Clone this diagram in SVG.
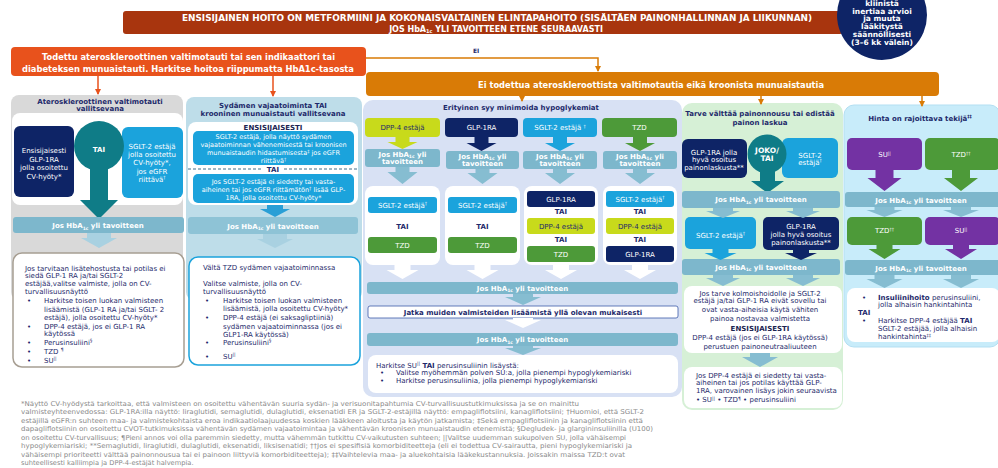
<svg xmlns="http://www.w3.org/2000/svg" width="998" height="468" viewBox="0 0 998 468">
<defs>
<style>
text{font-family:"DejaVu Sans",Verdana,sans-serif}
.n{fill:#1E2A6B;font-size:7px}
.w{fill:#fff;font-size:7px}
.s6{font-size:6.5px}
.b{font-weight:bold}
.m{text-anchor:middle}
.sp{font-size:4.5px}
.bar{fill:#7DB7CC}
.la{fill:#86BDD1}
.lal{fill:#A9D1E1}
.wh{fill:#fff}
.navy{fill:#0E2466}
.blue{fill:#1BA3DC}
.lime{fill:#C8DA1B}
.green{fill:#4D9A39}
.purple{fill:#7332A3}
.teal{fill:#0F7C87}
.fn{fill:#8A8A8A;font-size:6.7px}
.ol{fill:none;stroke:#D97B06;stroke-width:1.5}
.or{fill:none;stroke:#E8521C;stroke-width:1.5}
</style>
<marker id="ahA" markerWidth="6" markerHeight="6" refX="5" refY="3" orient="auto" markerUnits="userSpaceOnUse"><path d="M0,0 L6,3 L0,6 Z" fill="#D97B06"/></marker>
<marker id="ahR" markerWidth="6" markerHeight="6" refX="5" refY="3" orient="auto" markerUnits="userSpaceOnUse"><path d="M0,0 L6,3 L0,6 Z" fill="#E8521C"/></marker>
</defs>

<!-- top banner -->
<g id="banner">
<rect x="123" y="11" width="720" height="23" rx="3" fill="#A8350E"/>
<text class="w b m" x="497" y="21" style="font-size:8px" textLength="630" lengthAdjust="spacingAndGlyphs">ENSISIJAINEN HOITO ON METFORMIINI JA KOKONAISVALTAINEN ELINTAPAHOITO (SISÄLTÄEN PAINONHALLINNAN JA LIIKUNNAN)</text>
<text class="w b m" x="496" y="31.5" style="font-size:8px">JOS HbA<tspan font-size="5" dy="1.5">1c</tspan><tspan dy="-1.5"> YLI TAVOITTEEN ETENE SEURAAVASTI</tspan></text>
</g>

<!-- inertia reminder circle -->
<g id="inertia">
<circle cx="882" cy="15" r="45" fill="#0E2466"/>
<text class="w b m" style="font-size:7.5px" x="882" y="6">kliinistä</text>
<text class="w b m" style="font-size:7.5px" x="882" y="13.5">inertiaa arvioi</text>
<text class="w b m" style="font-size:7.5px" x="882" y="21">ja muuta</text>
<text class="w b m" style="font-size:7.5px" x="882" y="29">lääkitystä</text>
<text class="w b m" style="font-size:7.5px" x="882" y="37">säännöllisesti</text>
<text class="w b m" style="font-size:7.5px" x="882" y="45">(3–6 kk välein)</text>
</g>

<!-- decision boxes -->
<g id="ascvd-yes">
<rect x="11" y="47" width="355" height="29" rx="4" fill="#E8521C"/>
<text class="w b m" style="font-size:8px" x="188.5" y="60" textLength="293" lengthAdjust="spacingAndGlyphs">Todettu ateroskleroottinen valtimotauti tai sen indikaattori tai</text>
<text class="w b m" style="font-size:8px" x="188" y="71.5" textLength="332" lengthAdjust="spacingAndGlyphs">diabeteksen  munuaistauti. Harkitse hoitoa riippumatta HbA1c-tasosta</text>
</g>
<g id="ascvd-no">
<rect x="366" y="72" width="573" height="24" rx="4" fill="#D97B06"/>
<text class="w b m" style="font-size:8.5px" x="651" y="88" textLength="346" lengthAdjust="spacingAndGlyphs">Ei todettua ateroskleroottista valtimotautia eikä kroonista munuaistautia</text>
</g>

<!-- column: ASCVD -->
<g id="col-ascvd">
<rect x="11" y="95" width="172" height="205" rx="8" fill="#D9D9D9"/>
<text class="n b m" x="100" y="103.5">Ateroskleroottinen valtimotauti</text>
<text class="n b m" x="100" y="111">vallitsevana</text>
<rect x="12" y="113" width="171" height="92" rx="8" class="wh"/>
<rect x="14" y="126" width="60" height="71" rx="6" class="navy"/>
<text class="w m" x="44" y="153">Ensisijaisesti</text>
<text class="w m" x="44" y="161.5">GLP-1RA</text>
<text class="w m" x="44" y="170">jolla osoitettu</text>
<text class="w m" x="44" y="178.5">CV-hyöty*</text>
<rect x="122" y="127" width="61" height="71" rx="6" class="blue"/>
<text class="w m" x="152" y="148.5">SGLT-2 estäjä</text>
<text class="w m" x="152" y="156.5">jolla osoitettu</text>
<text class="w m" x="152" y="164.5">CV-hyöty*,</text>
<text class="w m" x="152" y="173.5">jos eGFR</text>
<text class="w m" x="152" y="181.5">riittävä<tspan class="sp" dy="-2.5">†</tspan></text>
<circle cx="99" cy="146" r="25" class="teal"/>
<rect x="90" y="165" width="18" height="36" class="teal"/>
<polygon points="80,200 118,200 99,219" class="teal"/>
<text class="w b m" x="99" y="152">TAI</text>
<rect x="13" y="217" width="171" height="16" rx="3" class="bar"/>
<text class="w b m" x="98" y="228">Jos HbA<tspan font-size="4.5" dy="1.5">1c</tspan><tspan dy="-1.5"> yli tavoitteen</tspan></text>
<path d="M87,233 H111 V238 H117 L99,248 L81,238 H87 Z" class="lal"/>
<rect x="13" y="253" width="171" height="114" rx="9" fill="#fff" stroke="#A79E92" stroke-width="1.5"/>
<text class="n" x="25" y="270.5">Jos tarvitaan lisätehostusta tai potilas ei</text>
<text class="n" x="25" y="277.5">siedä GLP-1 RA ja/tai SGLT-2</text>
<text class="n" x="25" y="285.5">estäjää,valitse valmiste, jolla on CV-</text>
<text class="n" x="25" y="293.5">turvallisuusnäyttö</text>
<text class="n" x="27" y="302.5">•</text><text class="n" x="44" y="302.5">Harkitse toisen luokan valmisteen</text>
<text class="n" x="44" y="311.5">lisäämistä (GLP-1 RA ja/tai SGLT- 2</text>
<text class="n" x="44" y="319.5">estäjä), jolla osoitettu CV-hyöty*</text>
<text class="n" x="27" y="328.5">•</text><text class="n" x="44" y="328.5">DPP-4 estäjä, jos ei GLP-1 RA</text>
<text class="n" x="44" y="335.5">käytössä</text>
<text class="n" x="27" y="344.5">•</text><text class="n" x="44" y="344.5">Perusinsuliini<tspan class="sp" dy="-2.5">§</tspan></text>
<text class="n" x="27" y="353.5">•</text><text class="n" x="44" y="353.5">TZD <tspan class="sp" dy="-2.5">¶</tspan></text>
<text class="n" x="27" y="362.5">•</text><text class="n" x="44" y="362.5">SU<tspan class="sp" dy="-2.5">||</tspan></text>
</g>

<!-- column: heart failure / CKD -->
<g id="col-hf-ckd">
<rect x="186" y="97" width="176" height="203" rx="8" fill="#BEDDE9"/>
<text class="n b m" x="273" y="107.5">Sydämen vajaatoiminta TAI</text>
<text class="n b m" x="273" y="116">krooninen munuaistauti vallitsevana</text>
<rect x="188" y="122" width="170" height="83" rx="8" class="wh"/>
<text class="b m" x="273" y="129.5" style="font-size:7px;fill:#1A2350">ENSISIJAISESTI</text>
<rect x="193" y="131" width="161" height="34" rx="5" class="blue"/>
<text class="w s6 m" x="273.5" y="139">SGLT-2 estäjä, jolla näyttö sydämen</text>
<text class="w s6 m" x="273.5" y="147">vajaatoiminnan vähenemisestä  tai kroonisen</text>
<text class="w s6 m" x="273.5" y="155">munuaistaudin hidastumisesta<tspan class="sp" dy="-2">‡</tspan><tspan dy="2">  jos eGFR</tspan></text>
<text class="w s6 m" x="273.5" y="162.5">riittävä<tspan class="sp" dy="-2">†</tspan></text>
<path d="M188,169 H262 M284,169 H358" stroke="#2B5F7E" stroke-width="0.9" stroke-dasharray="3,2" fill="none"/>
<text class="n b m" x="273" y="171.5">TAI</text>
<rect x="193" y="174" width="161" height="29" rx="5" class="blue"/>
<text class="w s6 m" x="273.5" y="184">Jos SGLT-2 estäjä ei siedetty tai vasta-</text>
<text class="w s6 m" x="273.5" y="192">aiheinen tai jos eGFR riittämätön<tspan class="sp" dy="-2">†</tspan><tspan dy="2"> lisää GLP-</tspan></text>
<text class="w s6 m" x="273.5" y="200">1RA, jolla osoitettu CV-hyöty*</text>
<path d="M267,205 H283 V209 H290 L275,217 L260,209 H267 Z" fill="#2A9FD6"/>
<rect x="188" y="217" width="170" height="17" rx="3" fill="#8EC3D6"/>
<text class="w b m" x="273" y="228.5">Jos HbA<tspan font-size="4.5" dy="1.5">1c</tspan><tspan dy="-1.5"> yli tavoitteen</tspan></text>
<path d="M263,234 H287 V239 H293 L275,248 L257,239 H263 Z" class="lal"/>
<rect x="189" y="257" width="171" height="108" rx="9" fill="#fff" stroke="#1BA3DC" stroke-width="1.5"/>
<text class="n" x="203" y="269.5">Vältä TZD  sydämen vajaatoiminnassa</text>
<text class="n" x="203" y="285.5">Valitse  valmiste, jolla on CV-</text>
<text class="n" x="203" y="293.5">turvallisuusnäyttö</text>
<text class="n" x="205" y="302.5">•</text><text class="n" x="223" y="302.5">Harkitse toisen luokan valmisteen</text>
<text class="n" x="223" y="311">lisäämistä, jolla osoitettu CV-hyöty*</text>
<text class="n" x="205" y="319.5">•</text><text class="n" x="223" y="319.5">DPP-4 estäjä (ei saksagliptiiniä)</text>
<text class="n" x="223" y="328.5">sydämen vajaatoiminnassa (jos ei</text>
<text class="n" x="223" y="336.5">GLP1-RA käytössä)</text>
<text class="n" x="205" y="344.5">•</text><text class="n" x="223" y="344.5">Perusinsuliini<tspan class="sp" dy="-2.5">§</tspan></text>
<text class="n" x="205" y="358.5">•</text><text class="n" x="223" y="358.5">SU<tspan class="sp" dy="-2.5">||</tspan></text>
</g>

<!-- column: minimise hypoglycaemia -->
<g id="col-hypo">
<rect x="363" y="100" width="319" height="297" rx="10" fill="#D8E1F4"/>
<text class="n b m" x="521" y="109.5">Erityinen syy minimoida hypoglykemiat</text>
<rect x="365" y="118" width="75" height="19" rx="4" class="lime"/>
<text class="n m" x="402.5" y="130">DPP-4 estäjä</text>
<rect x="445" y="118" width="73" height="19" rx="4" class="navy"/>
<text class="w m" x="481.5" y="130">GLP-1RA</text>
<rect x="523" y="118" width="74" height="19" rx="4" class="blue"/>
<text class="w m" x="560" y="130">SGLT-2 estäjä <tspan class="sp" dy="-2.5">†</tspan></text>
<rect x="602" y="118" width="75" height="19" rx="4" class="green"/>
<text class="w m" x="639.5" y="130">TZD</text>

<rect x="365" y="149" width="75" height="18" rx="3" class="bar"/>
<text class="w b m" x="402.5" y="156.5">Jos HbA<tspan font-size="4.5" dy="1.5">1c</tspan><tspan dy="-1.5">  yli</tspan></text>
<text class="w b m" x="402.5" y="164">tavoitteen</text>
<rect x="446" y="151" width="73" height="18" rx="3" class="bar"/>
<text class="w b m" x="482.5" y="158.5">Jos  HbA<tspan font-size="4.5" dy="1.5">1c</tspan><tspan dy="-1.5"> yli</tspan></text>
<text class="w b m" x="482.5" y="166">tavoitteen</text>
<rect x="523" y="151" width="74" height="18" rx="3" class="bar"/>
<text class="w b m" x="560" y="158.5">Jos  HbA<tspan font-size="4.5" dy="1.5">1c</tspan><tspan dy="-1.5">  yli</tspan></text>
<text class="w b m" x="560" y="166">tavoitteen</text>
<rect x="603" y="151" width="74" height="18" rx="3" class="bar"/>
<text class="w b m" x="640" y="158.5">Jos  HbA<tspan font-size="4.5" dy="1.5">1c</tspan><tspan dy="-1.5"> yli</tspan></text>
<text class="w b m" x="640" y="166">tavoitteen</text>

<rect x="365" y="186" width="75" height="79" rx="8" class="wh"/>
<rect x="368" y="197" width="69" height="16" rx="3" class="blue"/>
<text class="w m" x="402.5" y="207.5">SGLT-2 estäjä<tspan class="sp" dy="-2.5">†</tspan></text>
<text class="n b m" x="402.5" y="228.5">TAI</text>
<rect x="368" y="237" width="69" height="16" rx="3" class="green"/>
<text class="w m" x="402.5" y="247.5">TZD</text>

<rect x="445" y="186" width="75" height="79" rx="8" class="wh"/>
<rect x="448" y="197" width="69" height="16" rx="3" class="blue"/>
<text class="w m" x="482.5" y="207.5">SGLT-2 estäjä<tspan class="sp" dy="-2.5">†</tspan></text>
<text class="n b m" x="482.5" y="228.5">TAI</text>
<rect x="448" y="237" width="69" height="16" rx="3" class="green"/>
<text class="w m" x="482.5" y="247.5">TZD</text>

<rect x="524" y="186" width="74" height="79" rx="8" class="wh"/>
<rect x="527" y="191" width="68" height="16" rx="3" class="navy"/>
<text class="w m" x="561" y="201.5">GLP-1RA</text>
<text class="n b m" x="561" y="214">TAI</text>
<rect x="527" y="218" width="68" height="16" rx="3" class="lime"/>
<text class="n m" x="561" y="228.5">DPP-4 estäjä</text>
<text class="n b m" x="561" y="242">TAI</text>
<rect x="527" y="246" width="68" height="16" rx="3" class="green"/>
<text class="w m" x="561" y="256.5">TZD</text>

<rect x="603" y="186" width="74" height="79" rx="8" class="wh"/>
<rect x="606" y="191" width="68" height="16" rx="3" class="blue"/>
<text class="w m" x="640" y="201.5">SGLT-2 estäjä<tspan class="sp" dy="-2.5">†</tspan></text>
<text class="n b m" x="640" y="214">TAI</text>
<rect x="606" y="218" width="68" height="16" rx="3" class="lime"/>
<text class="n m" x="640" y="228.5">DPP-4 estäjä</text>
<text class="n b m" x="640" y="242">TAI</text>
<rect x="606" y="246" width="68" height="16" rx="3" class="navy"/>
<text class="w m" x="640" y="256.5">GLP-1RA</text>

<rect x="367" y="282" width="311" height="12" rx="3" class="bar"/>
<text class="w b m" x="522.5" y="290.5">Jos HbA<tspan font-size="4.5" dy="1.5">1c</tspan><tspan dy="-1.5"> yli tavoitteen</tspan></text>
<rect x="368" y="306" width="310" height="12" rx="2" fill="#fff" stroke="#3C5BA8" stroke-width="0.8"/>
<text class="n b m" x="523" y="314.5">Jatka muiden valmisteiden lisäämistä yllä olevan mukaisesti</text>
<rect x="367" y="333" width="311" height="13" rx="3" class="bar"/>
<text class="w b m" x="522.5" y="342">Jos HbA<tspan font-size="4.5" dy="1.5">1c</tspan><tspan dy="-1.5"> yli tavoitteen</tspan></text>
<rect x="368" y="355" width="310" height="38" rx="8" class="wh"/>
<text class="n" x="376" y="367.5">Harkitse SU<tspan class="sp" dy="-2.5">||</tspan><tspan dy="2.5" font-weight="bold"> TAI</tspan> perusinsuliinin lisäystä:</text>
<text class="n" x="380" y="375">•</text><text class="n" x="396" y="375">Valitse myöhemmän polven SU:a, jolla pienempi hypoglykemiariski</text>
<text class="n" x="380" y="383">•</text><text class="n" x="396" y="383">Harkitse perusinsuliinia, jolla pienempi hypoglykemiariski</text>
</g>

<!-- column: weight -->
<g id="col-weight">
<rect x="682" y="103" width="161" height="307" rx="10" fill="#D6F0D6"/>
<text class="n b m" x="760" y="115.5">Tarve välttää painonnousu tai edistää</text>
<text class="n b m" x="760" y="125">painon laskua</text>
<rect x="682" y="139" width="65" height="39" rx="6" class="navy"/>
<text class="w m" x="714" y="154.5">GLP-1RA  jolla</text>
<text class="w m" x="714" y="161.5">hyvä osoitus</text>
<text class="w m" x="714" y="169.5">painonlaskusta**</text>
<rect x="782" y="138" width="56" height="40" rx="6" class="blue"/>
<text class="w m" x="810" y="157.5">SGLT-2</text>
<text class="w m" x="810" y="164.5">estäjä<tspan class="sp" dy="-2.5">†</tspan></text>
<circle cx="767" cy="154" r="19.5" class="teal"/>
<path d="M760,170 H775 V181 H784 L767.5,193 L751,181 H760 Z" class="teal"/>
<text class="w b m" style="font-size:7.5px" x="767" y="153">JOKO/</text>
<text class="w b m" style="font-size:7.5px" x="767" y="161">TAI</text>
<rect x="682" y="191" width="158" height="17" rx="3" class="bar"/>
<text class="w b m" x="761" y="202">Jos HbA<tspan font-size="4.5" dy="1.5">1c</tspan><tspan dy="-1.5"> yli tavoitteen</tspan></text>
<rect x="685" y="217" width="71" height="32" rx="5" class="blue"/>
<text class="w m" x="720.5" y="237.5">SGLT-2 estäjä<tspan class="sp" dy="-2.5">†</tspan></text>
<rect x="763" y="217" width="76" height="33" rx="5" class="navy"/>
<text class="w m" x="801" y="228.5">GLP-1RA</text>
<text class="w m" x="801" y="236.5">jolla hyvä osoitus</text>
<text class="w m" x="801" y="244.5">painonlaskusta**</text>
<rect x="682" y="259" width="158" height="16" rx="3" class="bar"/>
<text class="w b m" x="761" y="269.5">Jos HbA<tspan font-size="4.5" dy="1.5">1c</tspan><tspan dy="-1.5"> yli tavoitteen</tspan></text>
<rect x="684" y="286" width="158" height="67" rx="8" class="wh"/>
<text class="n m" x="760" y="295.5">Jos tarve  kolmoishoidolle ja SGLT-2</text>
<text class="n m" x="760" y="303">estäjä ja/tai GLP-1 RA eivät sovellu tai</text>
<text class="n m" x="760" y="312">ovat vasta-aiheisia käytä vähiten</text>
<text class="n m" x="760" y="320.5">painoa nostavaa valmistetta</text>
<text class="b m" x="760" y="330.5" style="font-size:7px;fill:#1A2350">ENSISIJAISESTI</text>
<text class="n m" x="760" y="339.5">DPP-4 estäjä (jos ei GLP-1RA käytössä)</text>
<text class="n m" x="760" y="348.5">perustuen painoneutraaliuuteen</text>
<rect x="684" y="367" width="158" height="41" rx="8" class="wh"/>
<text class="n" x="696" y="377.5">Jos DPP-4 estäjä ei siedetty tai vasta-</text>
<text class="n" x="696" y="384.5">aiheinen tai jos potilas käyttää GLP-</text>
<text class="n" x="696" y="392.5">1RA, varovainen lisäys jokin seuraavista</text>
<text class="n" x="696" y="402">• SU<tspan class="sp" dy="-2.5">||</tspan><tspan dy="2.5"> • TZD</tspan><tspan class="sp" dy="-2.5">¶</tspan><tspan dy="2.5"> • perusinsuliini</tspan></text>
</g>

<!-- column: cost -->
<g id="col-cost">
<rect x="844" y="105" width="156" height="242" rx="10" fill="#C8ECFA" stroke="#B3DFF2" stroke-width="1"/>
<text class="n b m" x="920" y="120.5">Hinta on rajoittava tekijä<tspan class="sp" dy="-2.5">‡‡</tspan></text>
<rect x="847" y="138" width="75" height="32" rx="5" class="purple"/>
<text class="w m" x="884.5" y="157">SU<tspan class="sp" dy="-2.5">||</tspan></text>
<rect x="925" y="138" width="75" height="32" rx="5" class="green"/>
<text class="w m" x="961" y="157">TZD<tspan class="sp" dy="-2.5">††</tspan></text>
<rect x="845" y="192" width="155" height="15" rx="3" class="bar"/>
<text class="w b m" x="921" y="202.5">Jos HbA<tspan font-size="4.5" dy="1.5">1c</tspan><tspan dy="-1.5"> yli tavoitteen</tspan></text>
<rect x="847" y="217" width="75" height="28" rx="5" class="green"/>
<text class="w m" x="884.5" y="233">TZD<tspan class="sp" dy="-2.5">††</tspan></text>
<rect x="925" y="217" width="75" height="28" rx="5" class="purple"/>
<text class="w m" x="961" y="233">SU<tspan class="sp" dy="-2.5">||</tspan></text>
<rect x="845" y="260" width="155" height="15" rx="3" class="bar"/>
<text class="w b m" x="921" y="270.5">Jos HbA<tspan font-size="4.5" dy="1.5">1c</tspan><tspan dy="-1.5"> yli tavoitteen</tspan></text>
<rect x="847" y="288" width="153" height="54" rx="8" class="wh"/>
<text class="n" x="862" y="299.5">•</text>
<text class="n" x="878" y="299.5"><tspan font-weight="bold">Insuliinihoito</tspan> perusinsuliini,</text>
<text class="n" x="878" y="306.5">jolla alhaisin hankintahinta</text>
<text class="n b" x="858" y="314.5">TAI</text>
<text class="n" x="862" y="322.5">•</text>
<text class="n" x="878" y="322.5">Harkitse DPP-4 estäjää <tspan font-weight="bold">TAI</tspan></text>
<text class="n" x="878" y="330.5">SGLT-2 estäjää, jolla alhaisin</text>
<text class="n" x="878" y="339">hankintahinta<tspan class="sp" dy="-2.5">‡‡</tspan></text>
</g>

<!-- connectors and flow arrows -->
<g id="connectors">
<path d="M366,58 H598 V71" class="ol" marker-end="url(#ahA)"/>
<text class="n b" style="font-size:6px" x="473" y="52.5">EI</text>
<path d="M98,76 V94" class="or" marker-end="url(#ahR)"/>
<path d="M273,76 V96" class="or" marker-end="url(#ahR)"/>
<path d="M522,96 V101" class="ol" marker-end="url(#ahA)"/>
<path d="M761,96 V104" class="ol" marker-end="url(#ahA)"/>
<path d="M922,96 V106" class="ol" marker-end="url(#ahA)"/>

<path d="M395.5,137 H409.5 V142 H417.5 L402.5,149 L387.5,142 H395.5 Z" class="lime"/>
<path d="M474.5,137 H488.5 V143 H496.5 L481.5,151 L466.5,143 H474.5 Z" class="navy"/>
<path d="M553,137 H567 V143 H575 L560,151 L545,143 H553 Z" class="blue"/>
<path d="M633,137 H647 V143 H655 L640,151 L625,143 H633 Z" class="green"/>
<path d="M395.5,167 H409.5 V172 H417.5 L402.5,184 L387.5,172 H395.5 Z" class="la"/>
<path d="M475.5,169 H489.5 V173 H497.5 L482.5,184 L467.5,173 H475.5 Z" class="la"/>
<path d="M553,169 H567 V173 H575 L560,184 L545,173 H553 Z" class="la"/>
<path d="M633,169 H647 V173 H655 L640,184 L625,173 H633 Z" class="la"/>
<path d="M394.5,264 H410.5 V270 H418.5 L402.5,279 L386.5,270 H394.5 Z" class="wh"/>
<path d="M474.5,264 H490.5 V270 H498.5 L482.5,279 L466.5,270 H474.5 Z" class="wh"/>
<path d="M553,264 H569 V270 H577 L561,279 L545,270 H553 Z" class="wh"/>
<path d="M632,264 H648 V270 H656 L640,279 L624,270 H632 Z" class="wh"/>
<path d="M513,294 H533 V297 H541 L523,305 L505,297 H513 Z" class="la"/>
<path d="M513,318 H533 V320 H541 L523,328 L505,320 H513 Z" class="wh"/>
<path d="M513,346 H533 V348 H541 L523,355 L505,348 H513 Z" class="la"/>

<path d="M713,208 H733 V211 H740 L723,218 L706,211 H713 Z" class="la"/>
<path d="M793,208 H813 V211 H820 L803,218 L786,211 H793 Z" class="la"/>
<path d="M712.5,249 H728.5 V253 H736.5 L720.5,260 L704.5,253 H712.5 Z" class="blue"/>
<path d="M793,250 H809 V253 H817 L801,260 L785,253 H793 Z" class="navy"/>
<path d="M713,275 H733 V278 H740 L723,286 L706,278 H713 Z" class="la"/>
<path d="M793,275 H813 V278 H820 L803,286 L786,278 H793 Z" class="la"/>
<path d="M750,353 H770 V357 H778 L760,367 L742,357 H750 Z" class="la"/>

<path d="M875.5,170 H893.5 V178 H901.5 L884.5,191 L867.5,178 H875.5 Z" class="purple"/>
<path d="M952,170 H970 V178 H978 L961,191 L944,178 H952 Z" class="green"/>
<path d="M874.5,207 H894.5 V210 H902.5 L884.5,217 L866.5,210 H874.5 Z" class="la"/>
<path d="M951,207 H971 V210 H979 L961,217 L943,210 H951 Z" class="la"/>
<path d="M876.5,245 H892.5 V249 H900.5 L884.5,259 L868.5,249 H876.5 Z" class="green"/>
<path d="M953,245 H969 V249 H977 L961,259 L945,249 H953 Z" class="purple"/>
<path d="M874.5,275 H894.5 V279 H902.5 L884.5,288 L866.5,279 H874.5 Z" class="la"/>
<path d="M951,275 H971 V279 H979 L961,288 L943,279 H951 Z" class="la"/>
</g>

<!-- footnotes -->
<g id="footnotes">
<text class="fn" x="21" y="405.5" textLength="558" lengthAdjust="spacingAndGlyphs">*Näyttö CV-hyödystä tarkoittaa, että valmisteen on osoitettu vähentävän suuria sydän- ja verisuonitapahtumia CV-turvallisuustutkimuksissa ja se on mainittu</text>
<text class="fn" x="21" y="414" textLength="623" lengthAdjust="spacingAndGlyphs">valmisteyhteenvedossa: GLP-1RA:illa näyttö: liraglutidi, semaglutidi, dulaglutidi, eksenatidi ER ja SGLT-2-estäjillä näyttö: empagliflotsiini, kanagliflotsiini; †Huomioi, että SGLT-2</text>
<text class="fn" x="21" y="423" textLength="622" lengthAdjust="spacingAndGlyphs">estäjillä eGFR:n suhteen maa- ja valmistekohtaista eroa indikaatiolaajuudessa koskien lääkkeen aloitusta ja käytön jatkamista; ‡Sekä empagliflotsiinin ja kanagliflotsiinin että</text>
<text class="fn" x="21" y="431" textLength="632" lengthAdjust="spacingAndGlyphs">dapagliflotsiinin on osoitettu CVOT-tutkimuksissa vähentävän sydämen vajaatoimintaa ja  vähentävän kroonisen munuaistaudin etenemistä; §Degludek- ja glargininsuliinilla (U100)</text>
<text class="fn" x="21" y="439.5" textLength="605" lengthAdjust="spacingAndGlyphs">on osoitettu CV-turvallisuus; ¶Pieni annos voi olla paremmin siedetty, mutta vähemmän tutkittu CV-vaikutusten suhteen; ||Valitse uudemman sukupolven SU, jolla vähäisempi</text>
<text class="fn" x="21" y="448" textLength="611" lengthAdjust="spacingAndGlyphs">hypoglykemiariski; **Semaglutidi, liraglutidi, dulaglutidi, eksenatidi, liksisenatidi; ††Jos ei spesifisiä komorbiditeetteja (eli ei todettua CV-sairautta, pieni hypoglykemiariski ja</text>
<text class="fn" x="21" y="456.5" textLength="604" lengthAdjust="spacingAndGlyphs">vähäisempi prioriteetti  välttää painonnousua tai ei painoon liittyviä komorbiditeetteja); ‡‡Vaihtelevia maa- ja aluekohtaisia lääkekustannuksia. Joissakin maissa TZD:t ovat</text>
<text class="fn" x="21" y="465">suhteellisesti kalliimpia ja DPP-4-estäjät halvempia.</text>
</g>
</svg>
